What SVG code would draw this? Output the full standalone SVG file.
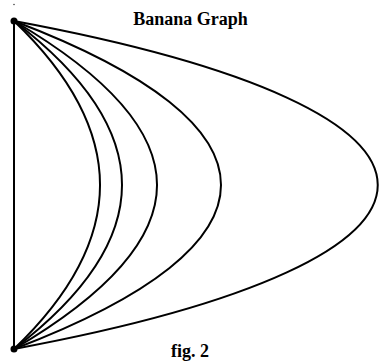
<svg xmlns="http://www.w3.org/2000/svg" width="379" height="361" viewBox="0 0 379 361">
<style>
.edge{fill:none;stroke:#000;stroke-width:2}
.vertex{fill:#000}
.label{font-family:"Liberation Serif","Times New Roman",serif;font-weight:bold;font-size:18px;fill:#000;text-anchor:middle}
</style>
<rect width="379" height="361" fill="#fff"/>
<circle cx="14" cy="4.5" r="0.8" fill="#444"/>
<text class="label" x="190.5" y="25">Banana Graph</text>
<g id="connectors">
<path class="edge" d="M14,21 L14,349"/>
<path class="edge" d="M14,21 C128.7,131 128.7,239 14,349"/>
<path class="edge" d="M14,21 C158,131 158,239 14,349"/>
<path class="edge" d="M14,21 C204.7,133 204.7,237 14,349"/>
<path class="edge" d="M14,21 C290,126 290,244 14,349"/>
<path class="edge" d="M14,21 C499,111 499,259 14,349"/>
</g>
<g id="v1"><circle class="vertex" cx="14" cy="21" r="3.5"/></g>
<g id="v2"><circle class="vertex" cx="14" cy="349" r="3.5"/></g>
<text class="label" x="190" y="357">fig. 2</text>
</svg>
